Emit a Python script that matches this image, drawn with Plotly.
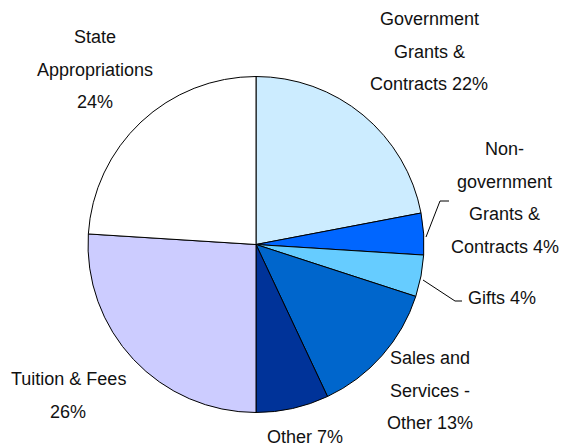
import plotly.graph_objects as go

W, H = 565, 447

labels = [
    "Government Grants & Contracts",
    "Non-government Grants & Contracts",
    "Gifts",
    "Sales and Services - Other",
    "Other",
    "Tuition & Fees",
    "State Appropriations",
]
values = [22, 4, 4, 13, 7, 26, 24]
colors = ["#CCECFF", "#0066FF", "#66CCFF", "#0066CC", "#003399", "#CCCCFF", "#FFFFFF"]

label_lines = [
    ["Government", "Grants &", "Contracts 22%"],
    ["Non-", "government", "Grants &", "Contracts 4%"],
    ["Gifts 4%"],
    ["Sales and", "Services -", "Other 13%"],
    ["Other 7%"],
    ["Tuition & Fees", "26%"],
    ["State", "Appropriations", "24%"],
]
# centre x and first-line y of each label, in pixels from the top-left
label_pos = [(429, 18), (505, 148), (502, 297), (430, 357), (305, 436), (68, 378), (95, 36)]
LINE_GAP = 32.7

FONT = "Liberation Sans, Arial, sans-serif"

# pie geometry in pixels
cx, cy, r = 256, 244.5, 168

fig = go.Figure(go.Pie(
    labels=labels,
    values=values,
    sort=False,
    direction="clockwise",
    rotation=0,
    marker=dict(colors=colors, line=dict(color="black", width=1)),
    textinfo="none",
    hoverinfo="label+percent",
    showlegend=False,
    domain=dict(x=[(cx - r) / W, (cx + r) / W],
                y=[(H - cy - r) / H, (H - cy + r) / H]),
))

for lines, (x, y0) in zip(label_lines, label_pos):
    for i, line in enumerate(lines):
        y = y0 + i * LINE_GAP + 1
        fig.add_annotation(
            x=x / W, y=1 - y / H, xref="paper", yref="paper",
            text=line, showarrow=False,
            xanchor="center", yanchor="middle",
            font=dict(family=FONT, size=18, color="#111111"),
        )

# leader lines
leaders = [
    [(426, 237), (440, 201), (449, 201)],
    [(423, 280), (455, 301), (462, 301)],
]
for pts in leaders:
    path = "M " + " L ".join(f"{x / W},{1 - y / H}" for x, y in pts)
    fig.add_shape(type="path", path=path, xref="paper", yref="paper",
                  line=dict(color="black", width=1))

fig.update_layout(
    width=W, height=H,
    margin=dict(l=0, r=0, t=0, b=0),
    paper_bgcolor="white",
    plot_bgcolor="white",
)

fig.write_html("out.html", config={"displayModeBar": False},
               post_script="document.body.style.margin = '0';")
